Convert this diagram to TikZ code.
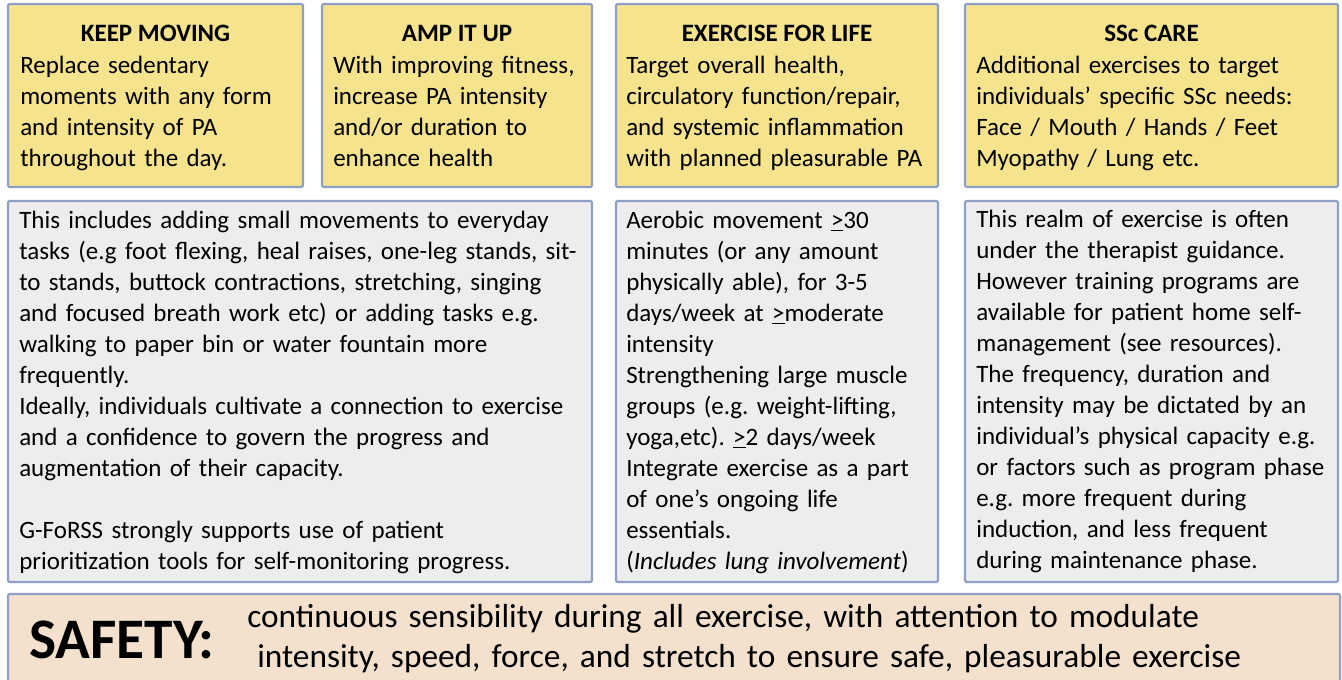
\documentclass[tikz,border=0pt]{standalone}
\usepackage{fontspec}
\setmainfont{Carlito}
\usetikzlibrary{fit}
\definecolor{ybox}{RGB}{245,227,141}
\definecolor{gbox}{RGB}{237,237,237}
\definecolor{sbox}{RGB}{243,225,206}
\definecolor{bline}{RGB}{143,160,200}
\tikzset{
  panel/.style={draw=bline, line width=1.6pt, inner sep=0pt, rounded corners=1pt},
  ypanel/.style={panel, fill=ybox},
  gpanel/.style={panel, fill=gbox},
  spanel/.style={panel, fill=sbox},
  ttl/.style={inner sep=0pt, anchor=base, font=\fontsize{18.75pt}{23.25pt}\selectfont\bfseries},
  body/.style={inner sep=0pt, anchor=base west, align=left, text width=500pt,
    font=\fontsize{18.75pt}{23.25pt}\selectfont},
}
\frenchspacing
\begin{document}
\frenchspacing
\begin{tikzpicture}[x=0.75pt,y=-0.75pt]
\useasboundingbox (0,0) rectangle (1342,679);
% top panels
\node[ypanel, fit={(8,4) (303,187)}] (p1) {};
\node[ypanel, fit={(322,4) (592,187)}] (p2) {};
\node[ypanel, fit={(616,4) (938,187)}] (p3) {};
\node[ypanel, fit={(965,4) (1338,187)}] (p4) {};
% bottom panels
\node[gpanel, fit={(8,201) (592,582)}] (q1) {};
\node[gpanel, fit={(616,201) (938,582)}] (q2) {};
\node[gpanel, fit={(965,201) (1338,582)}] (q3) {};
% safety
\node[spanel, fit={(8,594) (1340,682)}] (s) {};

% titles
\node[ttl] (t1) at (155.5,41) {KEEP MOVING};
\node[ttl] (t2) at (457,41) {AMP IT UP};
\node[ttl] (t3) at (777,41) {EXERCISE FOR LIFE};
\node[ttl] (t4) at (1151.5,41) {SSc CARE};

% top bodies
\node[body] (b1) at (20,73) {Replace sedentary\\moments with any form\\and intensity of PA\\throughout the day.};
\node[body] (b2) at (333,73) {With improving fitness,\\increase PA intensity\\and/or duration to\\enhance health};
\node[body] (b3) at (626,73) {Target overall health,\\circulatory function/repair,\\and systemic inflammation\\with planned pleasurable PA};
\node[body] (b4) at (976,73) {Additional exercises to target\\individuals’ specific SSc needs:\\Face / Mouth / Hands / Feet\\Myopathy / Lung etc.};

% bottom bodies
\node[body, text width=570pt] (c1) at (19,228) {This includes adding small movements to everyday\\tasks (e.g foot flexing, heal raises, one-leg stands, sit-\\to stands, buttock contractions, stretching, singing\\and focused breath work etc) or adding tasks e.g.\\walking to paper bin or water fountain more\\frequently.\\Ideally, individuals cultivate a connection to exercise\\and a confidence to govern the progress and\\augmentation of their capacity.\\\mbox{}\\G-FoRSS strongly supports use of patient\\prioritization tools for self-monitoring progress.};
\node[body] (c2) at (626,228) {Aerobic movement \underline{>}30\\minutes (or any amount\\physically able), for 3-5\\days/week at \underline{>}moderate\\intensity\\Strengthening large muscle\\groups (e.g. weight-lifting,\\yoga,etc). \underline{>}2 days/week\\Integrate exercise as a part\\of one’s ongoing life\\essentials.\\(\textit{Includes lung involvement})};
\node[body] (c3) at (976,227) {This realm of exercise is often\\under the therapist guidance.\\However training programs are\\available for patient home self-\\management (see resources).\\The frequency, duration and\\intensity may be dictated by an\\individual’s physical capacity e.g.\\or factors such as program phase\\e.g. more frequent during\\induction, and less frequent\\during maintenance phase.};

% safety
\node[inner sep=0pt, anchor=base west, font=\fontsize{43pt}{50pt}\selectfont\bfseries] (st) at (29,658) {SAFETY:};
\node[inner sep=0pt, anchor=base west, align=left, text width=1000pt, font=\fontsize{25pt}{30pt}\selectfont] (sx) at (247,627) {continuous sensibility during all exercise, with attention to modulate\\\hspace*{7.5pt}intensity, speed, force, and stretch to ensure safe, pleasurable exercise};
\end{tikzpicture}
\end{document}
